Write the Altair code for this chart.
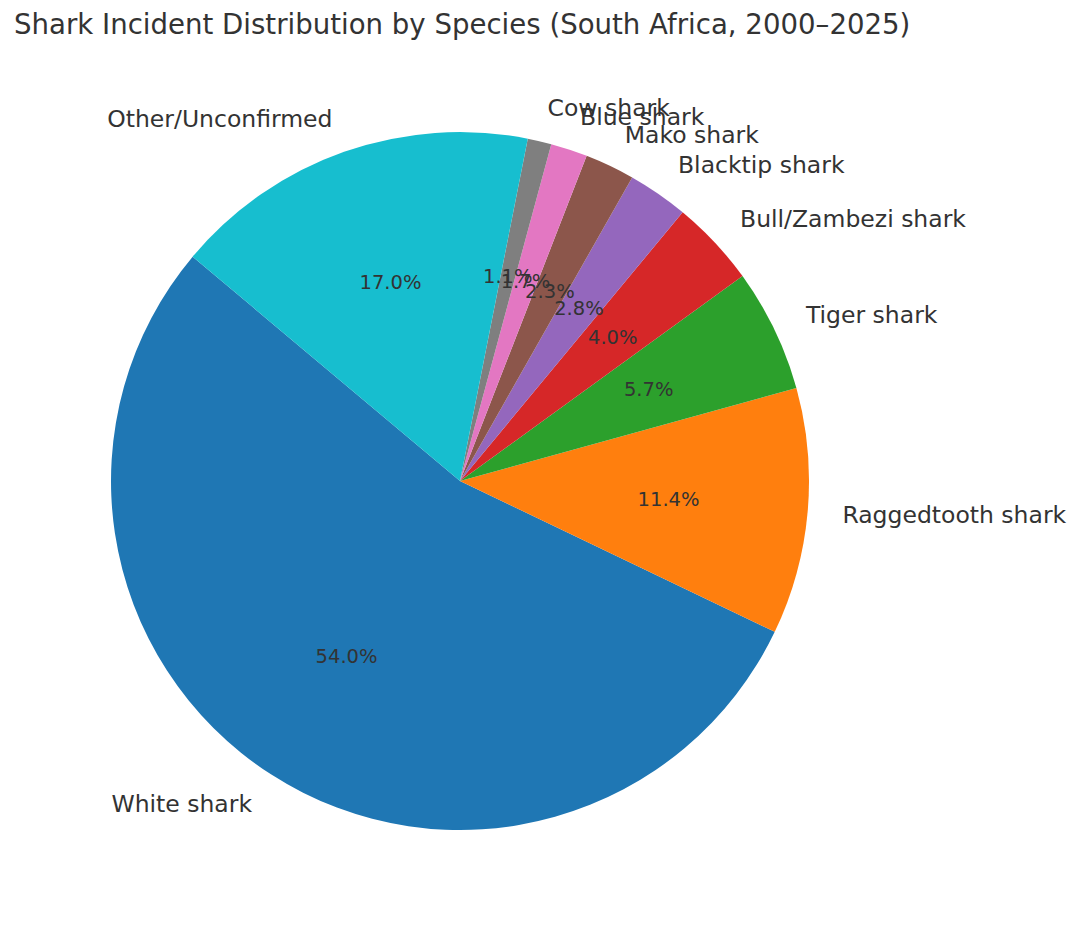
import math
import altair as alt
import pandas as pd

species = ["White shark", "Raggedtooth shark", "Tiger shark", "Bull/Zambezi shark",
           "Blacktip shark", "Mako shark", "Blue shark", "Cow shark", "Other/Unconfirmed"]
shares = [54.0, 11.4, 5.7, 4.0, 2.8, 2.3, 1.7, 1.1, 17.0]
colors = ["#1f77b4", "#ff7f0e", "#2ca02c", "#d62728", "#9467bd",
          "#8c564b", "#e377c2", "#7f7f7f", "#17becf"]

n = len(species)
df = pd.DataFrame({
    "species": species,
    "share": shares,
    "order": [n - 1 - i for i in range(n)],  # matplotlib draws counter-clockwise
})

start_deg = 140  # matplotlib startangle
t0 = math.radians(90 - start_deg)
total = float(sum(shares))
R = 349
TXT = "#333333"
FONT = "DejaVu Sans"

base = alt.Chart(df).transform_window(
    cum="sum(share)", sort=[alt.SortField("order", order="ascending")], frame=[None, 0]
).transform_calculate(
    start="datum.cum - datum.share",
    mid="datum.cum - datum.share / 2",
    pct="format(datum.share, '.1f') + '%'",
).transform_calculate(
    right=f"sin({t0} + datum.mid / {total} * 2 * PI) > 0"
)

theta_scale = alt.Scale(domain=[0, total], range=[t0, t0 + 2 * math.pi], zero=False, nice=False)

arcs = base.mark_arc(radius=R).encode(
    theta=alt.Theta("start:Q", scale=theta_scale),
    theta2="cum:Q",
    color=alt.Color("species:N", scale=alt.Scale(domain=species, range=colors), legend=None),
)

lab_r = base.transform_filter("datum.right").mark_text(
    radius=R * 1.1, align="left", baseline="middle", font=FONT, fontSize=23.5, color=TXT, dy=1.5
).encode(theta=alt.Theta("mid:Q"), text="species:N")

lab_l = base.transform_filter("!datum.right").mark_text(
    radius=R * 1.1, align="right", baseline="middle", font=FONT, fontSize=23.5, color=TXT, dy=1
).encode(theta=alt.Theta("mid:Q"), text="species:N")

pct = base.mark_text(
    radius=R * 0.6, align="center", baseline="middle", font=FONT, fontSize=19.5, color=TXT
).encode(theta=alt.Theta("mid:Q"), text="pct:N")

chart = alt.layer(arcs, lab_r, lab_l, pct).properties(
    width=904,
    height=700,
    autosize=alt.AutoSizeParams(type="none"),
    padding={"left": 0, "top": 123, "right": 160, "bottom": 92},
    title=alt.TitleParams(
        "Shark Incident Distribution by Species (South Africa, 2000–2025)",
        anchor="start", font=FONT, fontSize=27.6, fontWeight="normal", color=TXT,
        baseline="alphabetic", offset=35, dx=6,
    ),
).configure_view(stroke=None)

chart.save("out.html", embed_options={"renderer": "svg", "actions": False})
